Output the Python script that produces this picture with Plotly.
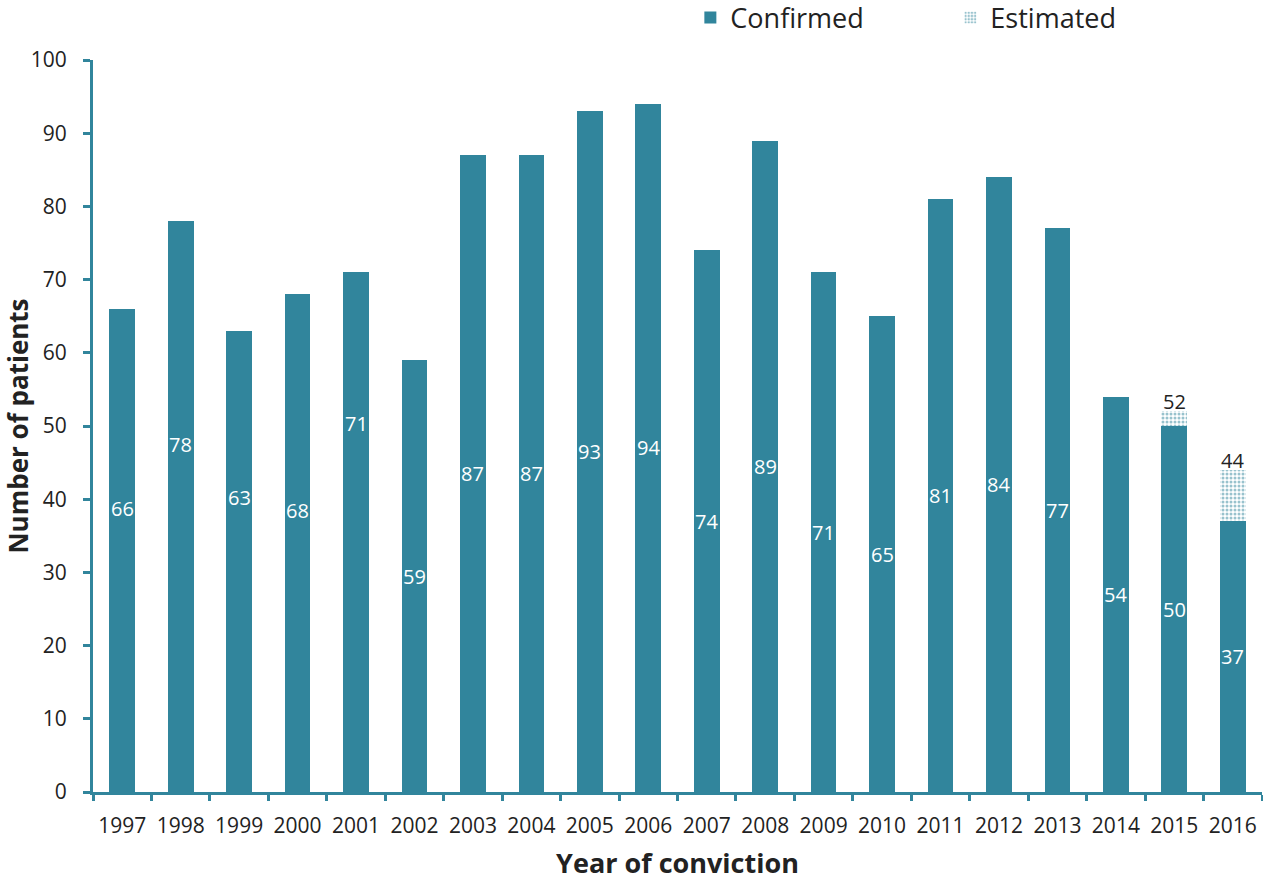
import plotly.graph_objects as go

# Patients by year of conviction
years = [str(y) for y in range(1997, 2017)]
confirmed = [66, 78, 63, 68, 71, 59, 87, 87, 93, 94, 74, 89, 71, 65, 81, 84, 77, 54, 50, 37]
# Totals including estimated cases (only the latest two years)
estimated_total = [None] * 18 + [52, 44]
# Height at which each white value label sits inside its bar
label_y = [38.7, 47.5, 40.3, 38.4, 50.4, 29.5, 43.5, 43.5, 46.5, 47, 37, 44.5, 35.5, 32.5, 40.5, 42, 38.5, 27, 25, 18.5]

TEAL = "#31859C"
TEXT = "#222222"
FONT = "Open Sans, DejaVu Sans, sans-serif"

estimated_extra = [
    (t - c) if t is not None else None for t, c in zip(estimated_total, confirmed)
]

fig = go.Figure()
fig.add_trace(go.Bar(
    x=years, y=confirmed, name="Confirmed",
    marker=dict(color=TEAL, line=dict(width=0)),
    hoverinfo="x+y",
))
fig.add_trace(go.Bar(
    x=years, y=estimated_extra, name="Estimated",
    marker=dict(
        color="white",
        line=dict(width=0),
        pattern=dict(shape=".", fgcolor=TEAL, bgcolor="white", size=4, solidity=0.45),
    ),
    hoverinfo="x+y",
))

annotations = []
for i, (ly, v) in enumerate(zip(label_y, confirmed)):
    annotations.append(dict(
        x=i, y=ly, text=str(v), showarrow=False, xref="x", yref="y",
        font=dict(color="white", size=20, family=FONT),
    ))
for i, t in enumerate(estimated_total):
    if t is not None:
        annotations.append(dict(
            x=i, y=t, text=str(t), showarrow=False, xref="x", yref="y",
            yanchor="bottom", yshift=-6,
            font=dict(color=TEXT, size=20, family=FONT),
        ))

fig.update_layout(
    width=1263, height=882,
    barmode="stack", bargap=0.56,
    plot_bgcolor="white", paper_bgcolor="white",
    margin=dict(l=93, r=1, t=60, b=90, autoexpand=False),
    font=dict(family=FONT, color=TEXT, size=21),
    showlegend=True,
    legend=dict(
        orientation="h", x=0.511, xanchor="left", y=1 - 18 / 882, yanchor="middle",
        xref="paper", yref="container", traceorder="normal",
        font=dict(size=27, color=TEXT, family=FONT),
        entrywidth=215, entrywidthmode="pixels",
        bgcolor="rgba(0,0,0,0)",
    ),
    annotations=annotations,
    xaxis=dict(
        type="category", range=[-0.5, len(years) - 0.5],
        showline=True, linecolor=TEAL, linewidth=3,
        ticks="outside", tickcolor=TEAL, tickwidth=3, ticklen=6,
        tickson="boundaries", tickangle=0,
        tickfont=dict(size=21, color=TEXT, family=FONT),
        ticklabelstandoff=13,
        showgrid=False,
        title=dict(text="<b>Year of conviction</b>", font=dict(size=27, color=TEXT, family=FONT), standoff=16),
    ),
    yaxis=dict(
        range=[0, 100], dtick=10, tick0=0,
        showline=True, linecolor=TEAL, linewidth=3,
        ticks="outside", tickcolor=TEAL, tickwidth=3, ticklen=7,
        tickfont=dict(size=21, color=TEXT, family=FONT),
        ticklabelstandoff=12,
        showgrid=False, zeroline=False,
        title=dict(text="<b>Number of patients</b>", font=dict(size=26, color=TEXT, family=FONT), standoff=12),
    ),
)

fig.write_html("out.html")
